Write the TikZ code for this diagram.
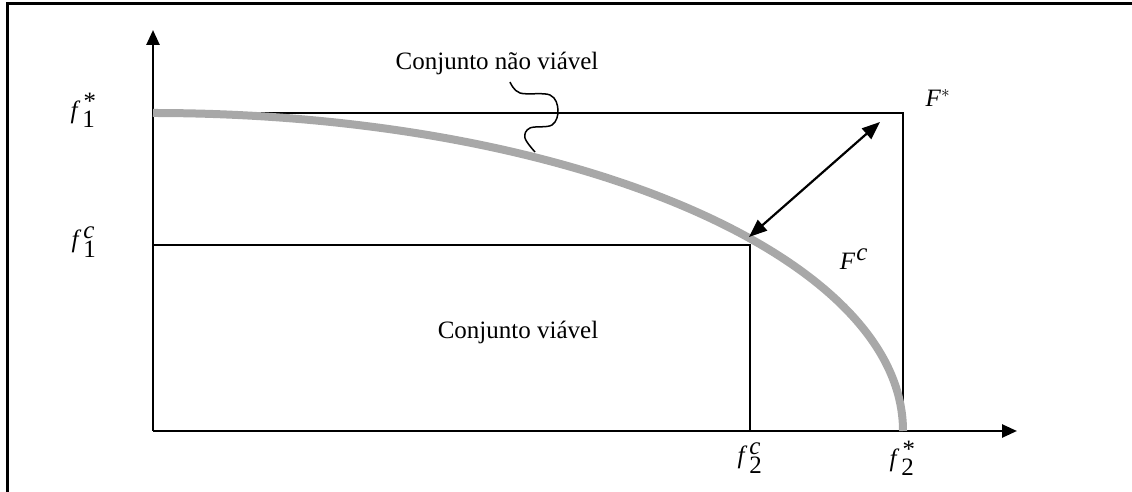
\documentclass[tikz,border=0pt]{standalone}
\usepackage{fontspec}
\setmainfont{Liberation Serif}
\usetikzlibrary{arrows.meta}
\definecolor{curvegray}{RGB}{168,168,168}
\newcommand{\fval}[2]{\textit{f}$\kern2pt{}_{\textnormal{#1}}^{\textit{#2}}$}

\begin{document}
\begin{tikzpicture}[x=1pt, y=1pt, font=\fontsize{25}{30}\selectfont,
    axis/.style={line width=2.6pt, -{Triangle[length=15pt,width=13pt]}},
    box/.style={line width=1.8pt}]
    \useasboundingbox (0,0) rectangle (1132,492);
    % === Frame (cropped) ===
    \draw[line width=3pt] (7,0) -- (7,488) -- (1132,488);
    % === Axes ===
    \coordinate (O) at (153,61);
    \coordinate (ytip) at (153,462);
    \coordinate (xtip) at (1017,61);
    \draw[axis] (O) -- (ytip);
    \draw[axis] (O) -- (xtip);
    % Ideal box and compromise box
    \draw[box] (153,379) -| (903,61);
    \draw[box] (153,247) -| (750,61);
    % Pareto front
    \draw[curvegray, line width=8pt] (153,379) arc[start angle=90, end angle=0, x radius=750, y radius=318];
    % Distance arrow
    \coordinate (Fc) at (749,255);
    \coordinate (Fs) at (880,370);
    \draw[line width=2.2pt, {Triangle[length=18pt,width=14pt]}-{Triangle[length=18pt,width=14pt]}] (Fc) -- (Fs);
    % Labels
    \node (f1s) at (83,382) {\fval{1}{*}};
    \node (f1c) at (84,250) {\fval{1}{c}};
    \node (f2c) at (750,34) {\fval{2}{c}};
    \node (f2s) at (902,34) {\fval{2}{*}};
    \node (Fstar) at (938,394) {\textit{F}$^{*}$};
    \node (Fcomp) at (854,233) {\textit{F}$\kern1pt^{\textit{c}}$};
    \node[anchor=base] (naoviavel) at (497,422) {Conjunto não viável};
    \node[anchor=base] (viavel) at (518,153) {Conjunto viável};
    % Squiggle to the front
    \draw[line width=1.5pt] plot[smooth, tension=0.6] coordinates {(510,410) (520,399) (550,397) (558,382) (552,367) (530,364) (525,354) (535,340)};
\end{tikzpicture}
\end{document}
